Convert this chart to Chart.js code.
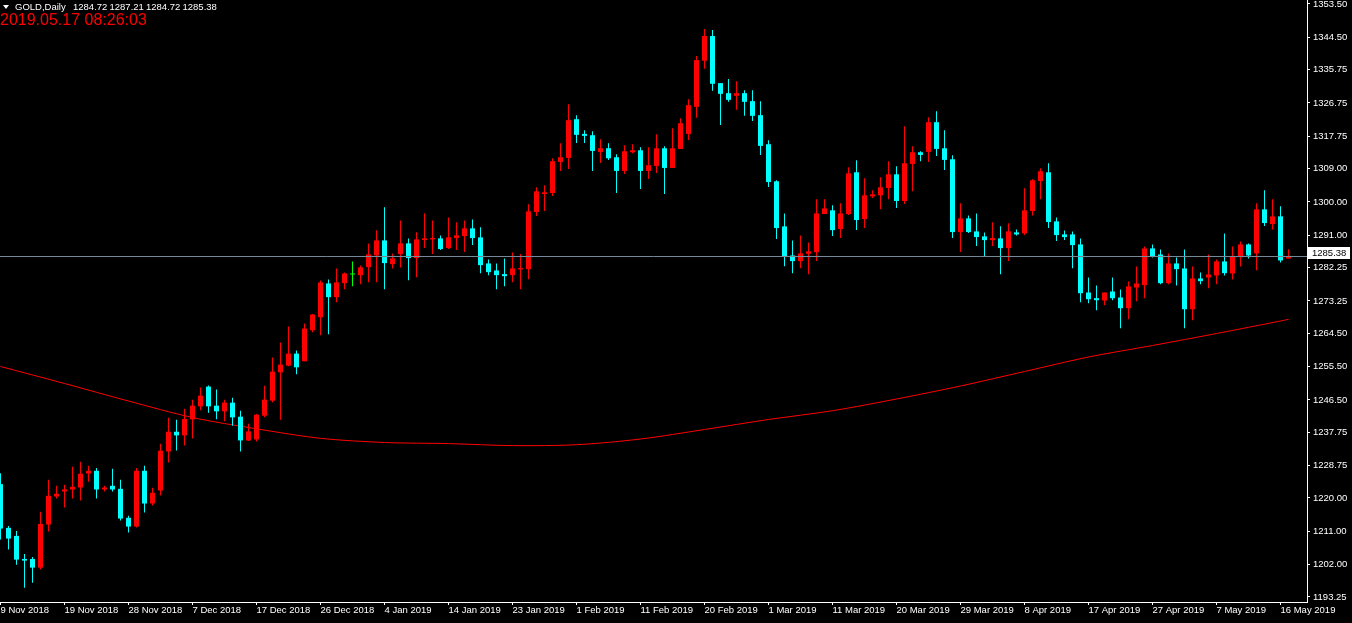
<!doctype html>
<html lang="en">
<head>
<meta charset="utf-8">
<title>GOLD,Daily</title>
<script src="https://cdn.jsdelivr.net/npm/chart.js@4.4.1/dist/chart.umd.min.js"></script>
<style>
  html, body { margin: 0; padding: 0; background: #000; }
  canvas { display: block; }
</style>
</head>
<body>
<canvas id="gold" width="1352" height="623"></canvas>
<script>
// header of the chart window
var symbol = "GOLD,Daily";
var lastQuote = ["1284.72", "1287.21", "1284.72", "1285.38"];
var serverTime = "2019.05.17 08:26:03";

// daily candles, oldest first (bar index 0 .. 161)
var opens = [
  1223.73, 1211.91, 1209.74, 1203.52, 1203.52, 1201.17, 1212.81, 1220.40, 1221.75, 1222.29,
  1222.83, 1226.62, 1227.34, 1222.29, 1223.28, 1222.47, 1214.62, 1212.27, 1227.34, 1218.50,
  1222.02, 1232.58, 1237.90, 1236.91, 1241.24, 1244.76, 1250.09, 1244.94, 1243.41, 1245.75,
  1241.96, 1235.55, 1235.82, 1242.23, 1246.29, 1253.96, 1255.77, 1259.01, 1256.94, 1265.33,
  1268.85, 1277.97, 1274.27, 1278.06, 1280.40, 1280.22, 1282.39, 1285.55, 1289.61, 1283.20,
  1285.91, 1288.80, 1284.83, 1289.70, 1289.88, 1290.15, 1287.53, 1290.24, 1290.78, 1292.86,
  1290.42, 1283.38, 1281.48, 1280.49, 1280.22, 1281.75, 1281.84, 1297.28, 1302.15, 1302.42,
  1310.82, 1311.90, 1322.37, 1318.40, 1318.04, 1313.52, 1314.52, 1312.08, 1308.38, 1313.43,
  1313.97, 1308.38, 1309.73, 1314.51, 1309.19, 1314.33, 1318.39, 1325.70, 1338.16, 1344.84,
  1332.11, 1329.40, 1328.68, 1329.40, 1327.24, 1323.45, 1315.60, 1305.58, 1293.39, 1285.54,
  1284.01, 1285.99, 1286.44, 1296.73, 1297.73, 1292.67, 1296.73, 1308.02, 1295.38, 1301.52,
  1301.79, 1303.77, 1307.47, 1300.25, 1310.27, 1313.43, 1313.52, 1321.55, 1314.51, 1311.54,
  1291.86, 1295.56, 1292.04, 1290.69, 1289.69, 1290.15, 1287.53, 1291.77, 1291.50, 1297.55,
  1305.67, 1308.02, 1294.75, 1291.23, 1291.23, 1288.52, 1275.52, 1273.99, 1273.36, 1275.80,
  1274.17, 1271.28, 1276.88, 1277.51, 1287.44, 1285.81, 1278.05, 1283.38, 1282.02, 1271.01,
  1279.32, 1279.59, 1280.13, 1283.92, 1280.67, 1285.09, 1288.52, 1286.09, 1298.00, 1294.03,
  1296.10, 1284.72
];
var highs = [
  1226.71, 1212.45, 1211.10, 1204.87, 1204.06, 1216.24, 1224.91, 1223.28, 1223.55, 1228.43,
  1229.78, 1228.70, 1228.07, 1223.28, 1227.89, 1224.91, 1215.16, 1228.07, 1228.70, 1222.74,
  1234.65, 1241.69, 1241.15, 1244.13, 1246.57, 1249.82, 1250.36, 1249.28, 1246.57, 1247.10,
  1243.58, 1240.06, 1242.70, 1250.35, 1257.93, 1261.99, 1266.32, 1259.83, 1267.14, 1269.75,
  1278.78, 1279.05, 1282.03, 1280.94, 1283.92, 1282.84, 1288.80, 1292.32, 1298.54, 1286.09,
  1295.02, 1290.15, 1291.78, 1296.92, 1295.02, 1290.96, 1295.83, 1294.48, 1295.02, 1295.29,
  1293.13, 1284.46, 1283.38, 1284.73, 1286.36, 1285.91, 1299.35, 1303.96, 1304.50, 1311.81,
  1315.87, 1326.43, 1323.45, 1319.39, 1319.12, 1316.95, 1315.87, 1312.89, 1315.33, 1315.60,
  1314.78, 1314.78, 1318.30, 1315.05, 1319.93, 1322.64, 1327.78, 1339.42, 1346.73, 1346.46,
  1332.11, 1333.20, 1332.65, 1330.22, 1330.22, 1327.24, 1316.68, 1305.85, 1296.91, 1289.60,
  1290.96, 1289.06, 1300.70, 1300.70, 1299.08, 1299.62, 1309.37, 1311.26, 1306.39, 1303.14,
  1306.66, 1311.00, 1309.64, 1320.47, 1315.06, 1313.70, 1322.91, 1324.53, 1319.39, 1312.62,
  1299.62, 1296.37, 1296.91, 1291.77, 1294.48, 1293.40, 1294.21, 1292.58, 1303.68, 1306.12,
  1309.10, 1310.45, 1295.83, 1292.31, 1292.04, 1290.15, 1279.59, 1277.42, 1275.52, 1279.59,
  1276.34, 1278.50, 1282.56, 1287.98, 1288.52, 1287.17, 1286.09, 1285.00, 1287.17, 1282.56,
  1280.94, 1285.81, 1284.46, 1291.50, 1287.98, 1289.33, 1288.79, 1299.62, 1303.14, 1300.71,
  1298.81, 1287.21
];
var lows = [
  1208.75, 1206.04, 1201.98, 1195.76, 1197.11, 1200.63, 1210.92, 1219.85, 1217.42, 1219.85,
  1219.31, 1224.37, 1219.85, 1221.75, 1221.75, 1213.90, 1210.65, 1212.00, 1216.06, 1217.96,
  1220.67, 1229.60, 1232.85, 1234.20, 1236.10, 1243.68, 1243.05, 1241.24, 1240.70, 1239.52,
  1232.57, 1235.37, 1235.28, 1241.78, 1245.84, 1241.14, 1255.59, 1253.42, 1256.94, 1264.79,
  1263.98, 1264.25, 1272.91, 1276.43, 1277.25, 1277.79, 1278.33, 1278.33, 1276.43, 1282.03,
  1282.30, 1278.87, 1279.68, 1287.53, 1285.91, 1286.99, 1287.26, 1286.99, 1286.45, 1288.34,
  1280.76, 1280.22, 1276.43, 1277.24, 1278.33, 1276.43, 1279.14, 1296.20, 1297.55, 1301.61,
  1308.38, 1308.92, 1315.96, 1315.96, 1308.38, 1310.54, 1311.36, 1302.42, 1307.57, 1313.16,
  1303.50, 1306.21, 1307.84, 1302.15, 1309.19, 1314.33, 1316.77, 1322.73, 1335.99, 1330.04,
  1320.83, 1327.06, 1324.89, 1323.27, 1321.91, 1312.71, 1304.04, 1289.97, 1282.65, 1280.76,
  1282.11, 1280.49, 1284.01, 1296.73, 1290.78, 1290.24, 1296.46, 1292.40, 1292.95, 1301.07,
  1298.00, 1300.71, 1298.36, 1299.44, 1302.87, 1311.00, 1310.81, 1312.44, 1308.65, 1290.24,
  1286.45, 1291.59, 1288.07, 1285.09, 1288.07, 1280.49, 1284.01, 1290.96, 1291.05, 1296.37,
  1300.71, 1292.95, 1289.42, 1289.69, 1282.11, 1272.91, 1272.64, 1270.74, 1272.10, 1273.45,
  1265.87, 1268.30, 1273.18, 1273.99, 1285.00, 1277.78, 1277.78, 1277.42, 1265.87, 1268.03,
  1277.78, 1276.70, 1277.78, 1280.13, 1279.05, 1282.56, 1284.73, 1281.57, 1293.49, 1292.58,
  1283.65, 1284.72
];
var closes = [
  1211.73, 1209.02, 1203.34, 1203.07, 1201.17, 1212.99, 1220.58, 1221.12, 1222.29, 1223.01,
  1226.53, 1227.34, 1222.29, 1222.83, 1222.29, 1214.44, 1212.27, 1227.34, 1218.50, 1221.39,
  1232.76, 1237.90, 1236.91, 1241.33, 1244.94, 1247.65, 1244.76, 1243.41, 1245.76, 1241.78,
  1235.55, 1237.99, 1242.50, 1246.56, 1254.14, 1256.04, 1259.01, 1255.31, 1265.78, 1269.57,
  1278.24, 1274.27, 1278.24, 1280.67, 1280.40, 1282.30, 1285.82, 1289.61, 1283.47, 1284.74,
  1288.80, 1284.83, 1289.88, 1290.15, 1290.24, 1287.26, 1290.42, 1290.96, 1292.86, 1290.24,
  1282.93, 1281.03, 1280.22, 1279.95, 1282.02, 1282.12, 1297.46, 1302.87, 1302.60, 1311.00,
  1312.08, 1322.10, 1318.13, 1317.86, 1313.79, 1314.52, 1311.81, 1308.38, 1313.70, 1313.97,
  1308.38, 1309.91, 1314.51, 1309.19, 1314.51, 1321.28, 1326.16, 1338.34, 1344.84, 1331.93,
  1329.22, 1327.60, 1329.40, 1327.06, 1323.27, 1315.15, 1305.40, 1292.94, 1285.36, 1284.01,
  1286.08, 1286.62, 1296.91, 1298.27, 1292.40, 1296.91, 1307.74, 1295.11, 1301.79, 1302.06,
  1303.95, 1307.47, 1300.25, 1310.45, 1313.43, 1312.71, 1321.55, 1314.33, 1311.36, 1291.86,
  1295.56, 1291.86, 1290.51, 1289.69, 1290.24, 1287.53, 1292.04, 1291.23, 1297.73, 1305.85,
  1308.29, 1294.57, 1291.05, 1290.51, 1288.34, 1275.34, 1273.72, 1273.45, 1275.52, 1273.99,
  1271.28, 1277.15, 1277.96, 1287.44, 1285.27, 1278.05, 1283.38, 1281.84, 1271.01, 1279.32,
  1278.59, 1280.40, 1283.92, 1280.76, 1285.27, 1288.52, 1285.54, 1298.00, 1294.30, 1296.10,
  1284.19, 1285.38
];

// moving average at every 8th bar
var maBars = [0, 8, 16, 24, 32, 40, 48, 56, 64, 72, 80, 88, 96, 104, 112, 120, 128, 136, 144, 152, 160, 161];
var maValues = [1255.53, 1250.93, 1246.20, 1241.74, 1238.69, 1236.12, 1234.99, 1234.69, 1234.15, 1234.39,
                1235.93, 1238.50, 1241.20, 1243.58, 1246.74, 1250.26, 1254.17, 1258.09, 1261.20, 1264.44,
                1267.82, 1268.28];

// axis labels
var dateTickBars = [0, 8, 16, 24, 32, 40, 48, 56, 64, 72, 80, 88, 96, 104, 112, 120, 128, 136, 144, 152, 160];
var dateTickLabels = ["9 Nov 2018", "19 Nov 2018", "28 Nov 2018", "7 Dec 2018", "17 Dec 2018", "26 Dec 2018",
                      "4 Jan 2019", "14 Jan 2019", "23 Jan 2019", "1 Feb 2019", "11 Feb 2019", "20 Feb 2019",
                      "1 Mar 2019", "11 Mar 2019", "20 Mar 2019", "29 Mar 2019", "8 Apr 2019", "17 Apr 2019",
                      "27 Apr 2019", "7 May 2019", "16 May 2019"];
var priceTicks = [1353.50, 1344.50, 1335.75, 1326.75, 1317.75, 1309.00, 1300.00, 1291.00, 1282.25, 1273.25,
                  1264.50, 1255.50, 1246.50, 1237.75, 1228.75, 1220.00, 1211.00, 1202.00, 1193.25];

var UP = "#FF0000", DOWN = "#00FFFF", DOJI = "#00FF00";
var FONT = "'Liberation Sans', Arial, sans-serif";

function candleColour(i) {
  if (closes[i] > opens[i]) return UP;
  if (closes[i] < opens[i]) return DOWN;
  return DOJI;
}

var bodies = [], wicks = [], ma = [];
for (var i = 0; i < opens.length; i++) {
  bodies.push({x: i, y: [opens[i], closes[i]]});
  wicks.push({x: i, y: [lows[i], highs[i]]});
}
for (var j = 0; j < maBars.length; j++) {
  ma.push({x: maBars[j], y: maValues[j]});
}
var bid = closes[closes.length - 1];

// bid line, price tag and the text in the top left corner
var terminalBits = {
  id: 'terminalBits',
  afterDatasetsDraw: function(chart) {
    var c = chart.ctx, area = chart.chartArea;
    var py = Math.round(chart.scales.y.getPixelForValue(bid)) + 0.5;
    c.save();
    c.strokeStyle = "#778899";
    c.lineWidth = 1;
    c.beginPath();
    c.moveTo(area.left, py);
    c.lineTo(area.right, py);
    c.stroke();
    c.restore();
  },
  afterDraw: function(chart) {
    var c = chart.ctx;
    var py = Math.round(chart.scales.y.getPixelForValue(bid));
    c.save();
    // price tag on the axis
    c.fillStyle = "#FFFFFF";
    c.fillRect(1308, py - 9, 42, 12);
    c.fillStyle = "#000000";
    c.font = "9.5px " + FONT;
    c.textBaseline = "middle";
    c.textAlign = "left";
    c.fillText(bid.toFixed(2), 1312, py - 3);

    // little triangle + symbol + OHLC
    c.fillStyle = "#FFFFFF";
    c.beginPath();
    c.moveTo(3, 5);
    c.lineTo(9, 5);
    c.lineTo(6, 9);
    c.closePath();
    c.fill();
    c.fillText(symbol, 15, 7);
    for (var k = 0; k < lastQuote.length; k++) {
      c.fillText(lastQuote[k], 73 + k * 36.5, 7);
    }

    // server time in red
    c.fillStyle = "#FF0000";
    c.font = "16px " + FONT;
    c.fillText(serverTime, 0, 21);
    c.restore();
  }
};

Chart.defaults.font.family = FONT;
Chart.defaults.font.size = 9.5;
Chart.defaults.color = "#FFFFFF";

var config = {
  type: 'bar',
  data: {
    datasets: [{
      label: 'body',
      data: bodies,
      order: 0,
      grouped: false,
      barThickness: 5,
      minBarLength: 1,
      inflateAmount: 0,
      borderWidth: 0,
      backgroundColor: function(ctx) { return candleColour(ctx.dataIndex); }
    }, {
      label: 'wick',
      data: wicks,
      order: 1,
      grouped: false,
      barThickness: 1,
      inflateAmount: 0,
      borderWidth: 0,
      backgroundColor: function(ctx) { return candleColour(ctx.dataIndex); }
    }, {
      type: 'line',
      label: 'MA',
      data: ma,
      order: 2,
      borderColor: "#FF0000",
      borderWidth: 1,
      pointRadius: 0,
      tension: 0.3
    }]
  },
  options: {
    responsive: false,
    animation: false,
    devicePixelRatio: 1,
    layout: { padding: 0 },
    plugins: { legend: { display: false }, tooltip: { enabled: false } },
    scales: {
      x: {
        type: 'linear',
        min: -0.0625,
        max: 163.3125,
        offset: false,
        grid: { offset: false, drawOnChartArea: false, color: "#FFFFFF", tickLength: 3 },
        border: { color: "#FFFFFF" },
        ticks: {
          color: "#FFFFFF",
          align: 'start',
          autoSkip: false,
          maxRotation: 0,
          minRotation: 0,
          padding: 0,
          callback: function(v) {
            var n = dateTickBars.indexOf(v);
            return n < 0 ? '' : dateTickLabels[n];
          }
        },
        afterBuildTicks: function(s) {
          s.ticks = dateTickBars.map(function(v) { return {value: v}; });
        },
        afterFit: function(s) {
          s.height = 21;
          s.paddingLeft = 0;
          s.paddingRight = 0;
        }
      },
      y: {
        position: 'right',
        min: 1191.88,
        max: 1354.58,
        grid: { drawOnChartArea: false, color: "#FFFFFF", tickLength: 3 },
        border: { color: "#FFFFFF" },
        ticks: {
          color: "#FFFFFF",
          autoSkip: false,
          padding: 3,
          callback: function(v) { return v.toFixed(2); }
        },
        afterBuildTicks: function(s) {
          s.ticks = priceTicks.map(function(v) { return {value: v}; });
        },
        afterFit: function(s) {
          s.width = 45;
          s.paddingTop = 0;
          s.paddingBottom = 0;
        }
      }
    }
  },
  plugins: [terminalBits]
};

var goldChart = new Chart(document.getElementById("gold").getContext("2d"), config);
</script>
</body>
</html>
